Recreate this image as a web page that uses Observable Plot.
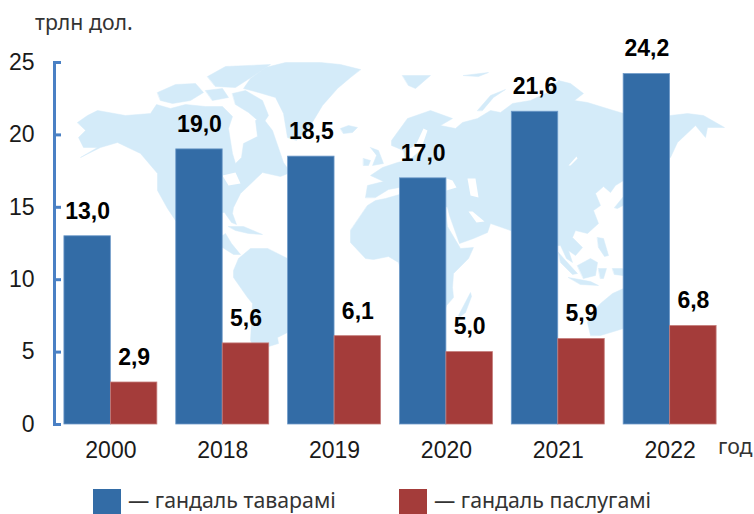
<!DOCTYPE html>
<html>
<head>
<meta charset="utf-8">
<script src="https://cdn.jsdelivr.net/npm/d3@7"></script>
<script src="https://cdn.jsdelivr.net/npm/@observablehq/plot@0.6"></script>
<style>
html,body{margin:0;padding:0;background:#fff;overflow:hidden}
#page{position:relative;width:754px;height:514px;overflow:hidden}
#page svg{display:block}
#map{position:absolute;left:0;top:0;z-index:0}
#chart{position:absolute;left:0;top:20px;z-index:1}
.t{position:absolute;font-family:"Noto Sans",sans-serif;font-size:21.3px;color:#333;white-space:nowrap;z-index:2;line-height:26px}
.sw{position:absolute;top:489px;width:28px;height:28px;z-index:2}
</style>
</head>
<body>
<div id="page">
  <div id="map"></div>
  <div id="chart"></div>
  <div class="t" style="left:35px;top:9px">трлн дол.</div>
  <div class="sw" style="left:93px;background:#336ca6"></div>
  <div class="t" style="left:128px;top:487px">— гандаль таварамі</div>
  <div class="sw" style="left:399px;background:#a43c3a"></div>
  <div class="t" style="left:434px;top:487px">— гандаль паслугамі</div>
</div>
<script>
const years = ["2000", "2018", "2019", "2020", "2021", "2022"];
const goods = [13.0, 19.0, 18.5, 17.0, 21.6, 24.2];
const services = [2.9, 5.6, 6.1, 5.0, 5.9, 6.8];
const yTicks = [0, 5, 10, 15, 20, 25];

// Decorative world map outline, traced in the reference's map units
const land = [
  [[77,122],[87,115],[97,110],[125,115],[150,113],[156,104],[170,108],[185,104],[205,106],[222,106],[232,116],[228,128],[232,153],[235,163],[241,157],[243,143],[257,136],[255,120],[262,117],[272,130],[283,162],[290,172],[280,176],[262,172],[240,193],[233,207],[232,213],[236,224],[231,222],[224,212],[212,212],[205,225],[215,240],[225,233],[231,243],[240,254],[233,254],[222,247],[195,240],[175,220],[167,208],[157,190],[157,173],[140,153],[117,142],[100,147],[80,157],[97,147],[83,147],[78,137],[85,130]],
  [[360,69],[340,64],[320,62],[285,62],[265,67],[250,78],[243,88],[258,92],[275,97],[283,113],[287,137],[296,140],[310,125],[322,105],[337,88],[350,77]],
  [[340,128],[348,125],[357,127],[352,132],[343,133]],
  [[157,92],[175,84],[195,83],[203,92],[190,100],[172,103],[160,100]],
  [[207,76],[225,66],[270,64],[252,76],[235,87],[215,86]],
  [[232,93],[245,90],[262,100],[268,115],[262,124],[248,112],[235,104]],
  [[205,90],[222,88],[228,97],[212,100]],
  [[228,226],[243,226],[262,234],[248,233],[235,230]],
  [[287,258],[310,275],[300,310],[287,332],[277,337],[278,343],[265,347],[255,350],[250,340],[252,303],[247,297],[233,277],[233,270],[238,258],[250,248],[267,248]],
  [[350,230],[350,242],[365,258],[373,259],[388,256],[398,262],[405,285],[410,320],[420,345],[435,340],[446,305],[453,297],[452,287],[453,273],[468,258],[473,247],[460,248],[447,226],[445,210],[425,203],[399,194],[385,198],[375,200],[367,205]],
  [[365,197],[367,185],[383,181],[370,175],[382,167],[397,162],[405,160],[403,150],[391,145],[391,140],[407,118],[430,110],[452,118],[440,125],[455,128],[462,122],[477,118],[490,110],[500,112],[512,103],[530,100],[547,92],[558,80],[570,83],[583,93],[574,100],[587,102],[613,110],[640,118],[670,115],[687,113],[703,115],[724,127],[707,127],[705,137],[695,125],[677,142],[670,157],[655,165],[640,170],[623,180],[615,185],[610,192],[603,186],[595,193],[600,205],[593,210],[598,223],[587,233],[575,230],[572,237],[582,247],[575,255],[568,250],[572,262],[566,258],[560,245],[553,245],[540,270],[527,240],[510,230],[490,223],[487,232],[473,238],[459,243],[449,215],[447,207],[420,190],[399,187],[388,189],[375,197]],
  [[558,252],[565,260],[577,273],[572,274],[560,262]],
  [[568,277],[590,281],[598,285],[580,284]],
  [[577,265],[590,258],[597,262],[595,275],[583,278]],
  [[598,268],[606,268],[603,278],[600,278]],
  [[597,237],[603,238],[608,255],[604,256],[598,247]],
  [[612,268],[622,268],[630,276],[614,274]],
  [[614,207],[623,196],[626,203],[617,208]],
  [[590,335],[587,322],[592,312],[600,303],[612,293],[623,288],[650,295],[650,330],[623,328],[610,332],[600,335]],
  [[458,315],[470,292],[471,296],[465,312],[460,316]],
  [[370,147],[378,150],[383,163],[372,165],[376,155]],
  [[363,158],[370,160],[368,165],[363,165]],
  [[402,75],[430,75],[415,88],[408,85]],
  [[463,75],[488,72],[478,76]],
  [[477,110],[490,95],[505,89],[493,97],[482,110]]
];
const water = [
  [[222,175],[235,172],[240,183],[228,185]],
  [[467,178],[475,178],[478,197],[470,195]],
  [[446,178],[452,180],[456,187],[446,190]],
  [[405,150],[415,145],[423,128],[427,130],[420,150],[410,158]],
  [[468,211],[472,211],[484,221],[476,222]],
  [[568,165],[576,156],[577,158],[570,165]]
];
const toGeo = r => ({type: "Polygon", coordinates: [r.concat([r[0]])]});

const mapPlot = Plot.plot({
  width: 754, height: 514,
  margin: 0,
  style: {background: "transparent"},
  projection: d3.geoIdentity(),
  marks: [
    Plot.geo(land.map(toGeo), {fill: "#d4ebf9", stroke: "#d4ebf9", strokeWidth: 0.5}),
    Plot.geo(water.map(toGeo), {fill: "#fff", stroke: "none"})
  ]
});
document.getElementById("map").append(mapPlot);

const sans = "Liberation Sans, Arial, sans-serif";
const half = 46.5;
const chart = Plot.plot({
  width: 754, height: 460,
  marginLeft: 45, marginRight: 19, marginTop: 42, marginBottom: 56,
  style: {background: "transparent", fontFamily: sans},
  x: {domain: years, padding: 0.169, round: false, label: null},
  y: {domain: [0, 25], label: null},
  marks: [
    Plot.barY(years, {x: d => d, y: (d, i) => goods[i], fill: "#336ca6", stroke: "#6e9ac9", strokeWidth: 0.8, insetRight: half}),
    Plot.barY(years, {x: d => d, y: (d, i) => services[i], fill: "#a43c3a", stroke: "#c47a78", strokeWidth: 0.8, insetLeft: half}),
    Plot.text(years, {x: d => d, y: (d, i) => goods[i], text: (d, i) => goods[i].toFixed(1).replace(".", ","), dx: -half/2, dy: -25, fontSize: 23, fontWeight: "bold", fill: "#000"}),
    Plot.text(years, {x: d => d, y: (d, i) => services[i], text: (d, i) => services[i].toFixed(1).replace(".", ","), dx: half/2, dy: -25, fontSize: 23, fontWeight: "bold", fill: "#000"}),
    Plot.frame({anchor: "left", dx: 9, stroke: "#4a80c4", strokeWidth: 3}),
    Plot.axisY({ticks: yTicks, tickSize: -7, tickFormat: () => "", label: null, dx: 9, stroke: "#4a80c4", strokeWidth: 3}),
    Plot.axisY({ticks: yTicks, tickSize: 0, tickPadding: 11, label: null, fontSize: 23, fill: "#1a1a1a"}),
    Plot.axisX({tickSize: 0, tickPadding: 17, label: null, fontSize: 23, fill: "#1a1a1a"}),
    Plot.text(["год"], {frameAnchor: "bottom-right", dx: 17, dy: 29, fontSize: 21.3, fontFamily: "Noto Sans", fill: "#333", textAnchor: "end"})
  ]
});
document.getElementById("chart").append(chart);
</script>
</body>
</html>
